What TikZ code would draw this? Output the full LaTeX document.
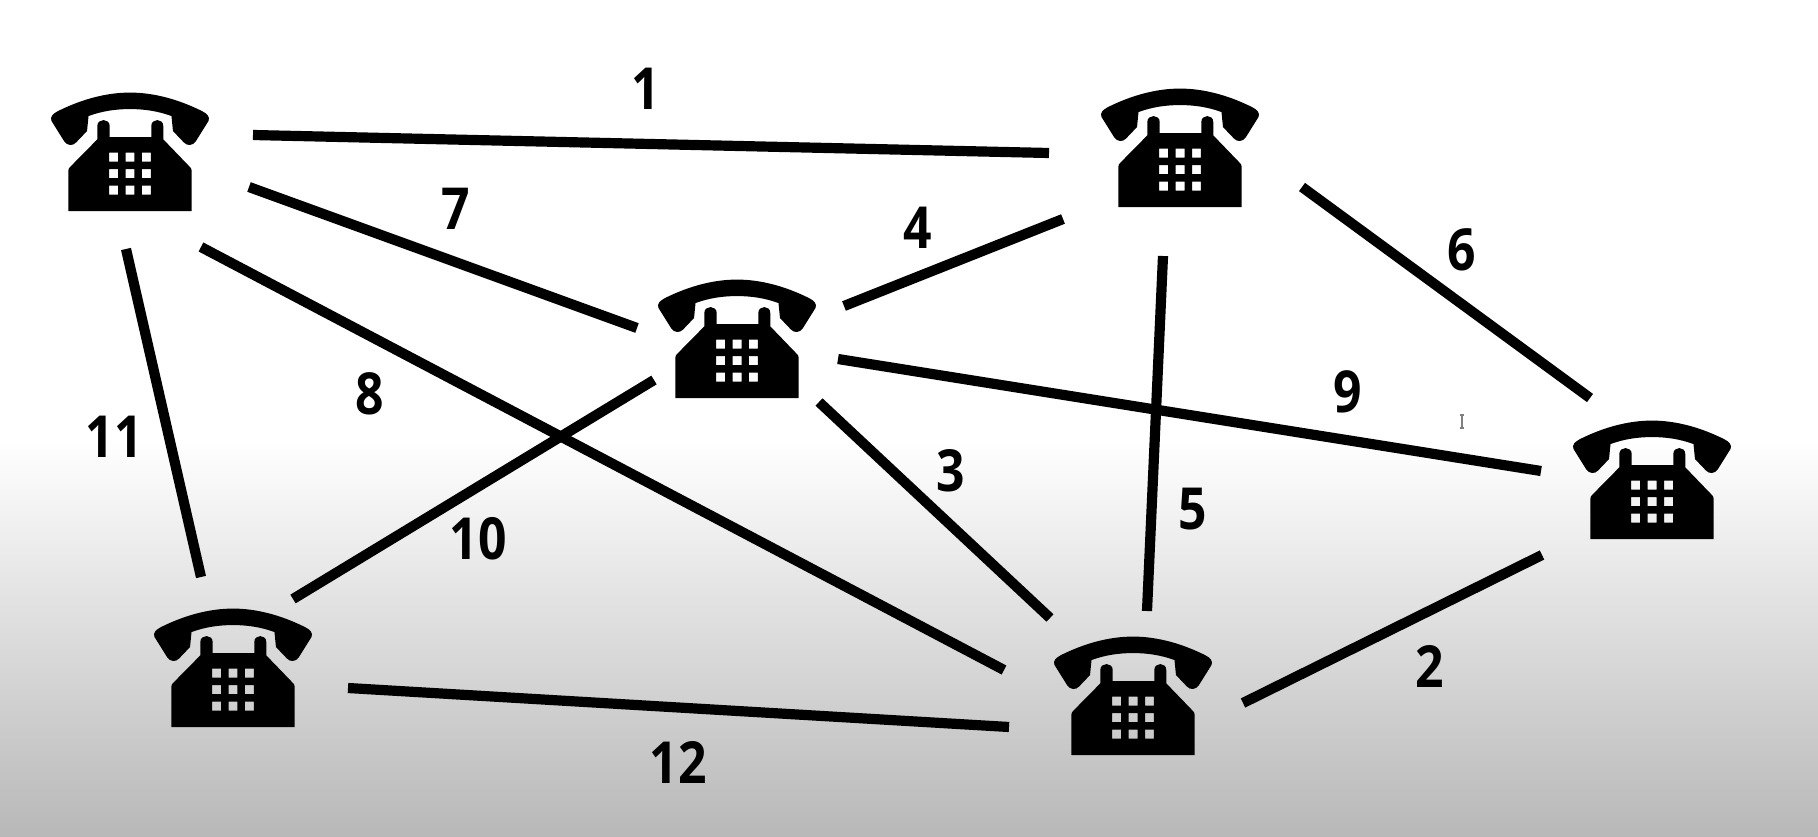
\documentclass[tikz,border=0pt]{standalone}
\usepackage{fontspec}
\setmainfont[FakeStretch=0.86]{Open Sans}
\usetikzlibrary{positioning, calc}
\definecolor{bggray}{RGB}{184, 184, 184}

\begin{document}
\begin{tikzpicture}[
    phone/.style={rectangle, anchor=south, inner sep=0pt, outer sep=0pt,
                  minimum width=1.58cm, minimum height=1.19cm},
    phoneicon/.pic={
      \begin{scope}[x=0.01cm, y=0.01cm]
        % handset
        \fill[black] (-72,100) .. controls (-50,111) and (-25,118.5) .. (0,118.5)
          .. controls (25,118.5) and (50,111) .. (72,100)
          .. controls (77,97.5) and (80.5,94) .. (78.5,90) -- (66,70)
          .. controls (63,65) and (57,65) .. (54,68.5) -- (43,80) -- (41.5,95)
          .. controls (28,100) and (14,102) .. (0,102)
          .. controls (-14,102) and (-28,100) .. (-41.5,95) -- (-43,80) -- (-54,68.5)
          .. controls (-57,65) and (-63,65) .. (-66,70) -- (-78.5,90)
          .. controls (-80.5,94) and (-77,97.5) .. (-72,100) -- cycle;
        % body and keys
        \fill[black, even odd rule] (-61.7,0) -- (-61.7,40) .. controls (-61.7,42) and (-61,43) .. (-60,44)
          -- (-32.7,71.7) -- (-32.7,85)
          .. controls (-32.7,93) and (-20.3,93) .. (-20.3,85) -- (-20.3,74) -- (21.3,74) -- (21.3,85)
          .. controls (21.3,93) and (33.3,93) .. (33.3,85) -- (33.3,71.7)
          -- (60,44) .. controls (61,43) and (61.7,42) .. (61.7,40) -- (61.7,0) -- cycle
          \foreach \kx in {-16.3,0,16.5} {
            \foreach \ky in {21,37.5,54} {
              (\kx-4.5,\ky-4.5) rectangle (\kx+4.5,\ky+4.5)
            }
          };
      \end{scope}
    },
    link/.style={line width=2.9pt, black},
    num/.style={font=\fontsize{16.5}{18}\selectfont\bfseries, text=black, inner sep=0pt}
]

%% Background
\useasboundingbox (0,0) rectangle (18.18,8.36);
\fill[white] (0,0) rectangle (18.18,8.36);
\shade[top color=white, bottom color=bggray] (0,0) rectangle (18.18,3.96);

%% Phones
\node[phone] (tel1) at (1.30,6.25) {};
\node[phone] (tel2) at (11.80,6.29) {};
\node[phone] (tel3) at (7.37,4.38) {};
\node[phone] (tel4) at (16.52,2.97) {};
\node[phone] (tel5) at (2.33,1.09) {};
\node[phone] (tel6) at (11.33,0.81) {};
\foreach \t in {tel1,tel2,tel3,tel4,tel5,tel6}
  \pic at (\t.south) {phoneicon};

%% Line ends
\coordinate (a1)  at (2.53,7.01);  \coordinate (b1)  at (10.49,6.83);
\coordinate (a7)  at (2.49,6.49);  \coordinate (b7)  at (6.37,5.08);
\coordinate (a8)  at (2.01,5.89);  \coordinate (b8)  at (10.04,1.66);
\coordinate (a11) at (1.26,5.87);  \coordinate (b11) at (2.01,2.59);
\coordinate (a4)  at (10.63,6.17); \coordinate (b4)  at (8.44,5.30);
\coordinate (a5)  at (11.63,5.80); \coordinate (b5)  at (11.47,2.25);
\coordinate (a6)  at (13.02,6.49); \coordinate (b6)  at (15.90,4.38);
\coordinate (a9)  at (8.38,4.77);  \coordinate (b9)  at (15.41,3.65);
\coordinate (a3)  at (8.19,4.34);  \coordinate (b3)  at (10.50,2.18);
\coordinate (a10) at (6.54,4.56);  \coordinate (b10) at (2.93,2.37);
\coordinate (a2)  at (15.42,2.81); \coordinate (b2)  at (12.43,1.33);
\coordinate (a12) at (3.48,1.48);  \coordinate (b12) at (10.09,1.09);

%% Connections
\foreach \n in {1,...,12}
  \draw[link] (a\n) -- (b\n);

%% Numbers
\node[num] (n1)  at (6.46,7.47) {1};
\node[num] (n2)  at (14.30,1.70) {2};
\node[num] (n3)  at (9.51,3.65) {3};
\node[num] (n4)  at (9.18,6.08) {4};
\node[num] (n5)  at (11.93,3.27) {5};
\node[num] (n6)  at (14.62,5.86) {6};
\node[num] (n7)  at (4.56,6.27) {7};
\node[num] (n8)  at (3.70,4.42) {8};
\node[num] (n9)  at (13.48,4.44) {9};
\node[num] (n10) at (4.78,2.97) {10};
\node[num] (n11) at (1.14,3.99) {11};
\node[num] (n12) at (6.78,0.74) {12};

%% Cursor
\draw[gray, line width=0.3pt] (14.62,4.20) -- (14.62,4.09) (14.60,4.21) -- (14.64,4.21) (14.60,4.08) -- (14.64,4.08);

\end{tikzpicture}
\end{document}
